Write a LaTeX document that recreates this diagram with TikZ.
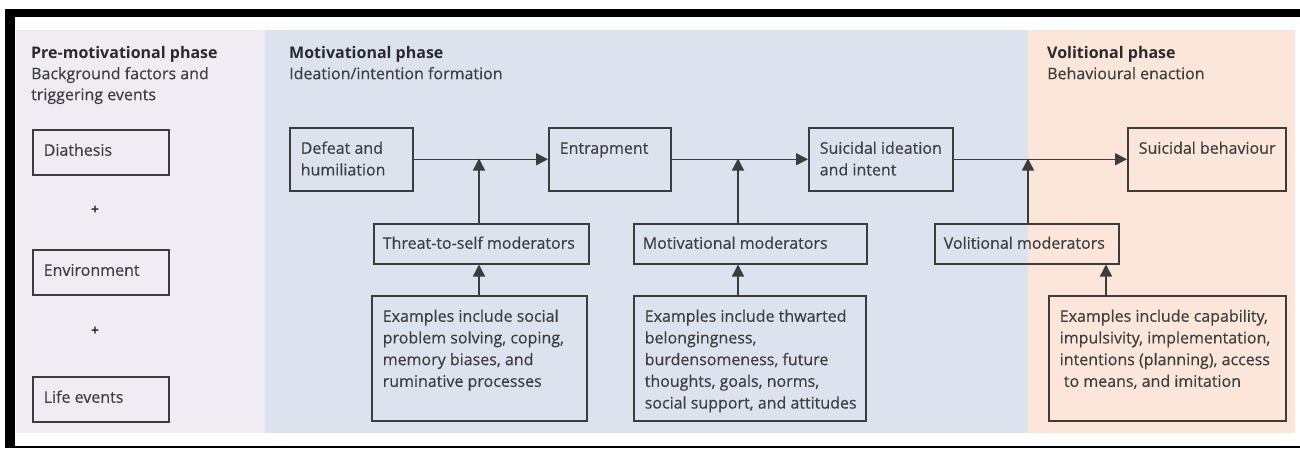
\documentclass[tikz,border=0pt]{standalone}
\usepackage{fontspec}
\setmainfont{Open Sans}
\newfontfamily\medf{Open Sans}[FakeBold=0.35]
\usetikzlibrary{arrows.meta}
\definecolor{prebg}{HTML}{EFECF4}
\definecolor{motbg}{HTML}{DCE2EE}
\definecolor{volbg}{HTML}{FCE5D9}
\definecolor{linec}{HTML}{3C3C3C}
\definecolor{txtc}{HTML}{3E3E3E}
\definecolor{headc}{HTML}{2A2A2A}
\newcommand\btx[3]{\parbox[c][#2pt][t]{#1pt}{\raggedright\leftskip=11pt\rule{0pt}{26pt}#3}}
\newcommand\htx[1]{\parbox[t]{260pt}{\raggedright\rule{0pt}{20pt}#1}}
\begin{document}
\begin{tikzpicture}[x=1pt,y=-1pt,
  boxst/.style={draw=linec, line width=1.5pt, inner sep=0pt, anchor=north west,
    font=\medf\fontsize{16}{21.7}\selectfont, text=txtc},
  headst/.style={inner sep=0pt, anchor=north west, font=\medf\fontsize{16}{21}\selectfont, text=txtc},
  plusst/.style={inner sep=0pt, font=\fontsize{14}{14}\selectfont\bfseries, text=headc},
  conn/.style={draw=linec, line width=1.5pt},
  arr/.style={conn, -{Triangle[length=12pt,width=12pt]}}]
\useasboundingbox (0,0) rectangle (1300,448);
\fill[white] (0,0) rectangle (1300,448);
% panels
\fill[prebg] (16,30) rectangle (265,433);
\fill[motbg] (265,30) rectangle (1028,433);
\fill[volbg] (1028,30) rectangle (1295,433);
% frame
\fill[black] (5,9) rectangle (1300,17);
\fill[black] (5,9) rectangle (15,448);
\draw[black, line width=1.5pt] (5,447) -- (1300,447);
% headings
\node[headst] (hpre) at (31,38) {\htx{\textcolor{headc}{\normalfont\bfseries Pre-motivational phase}\\Background factors and\\triggering events}};
\node[headst] (hmot) at (289,38) {\htx{\textcolor{headc}{\normalfont\bfseries Motivational phase}\\Ideation/intention formation}};
\node[headst] (hvol) at (1047,38) {\htx{\textcolor{headc}{\normalfont\bfseries Volitional phase}\\Behavioural enaction}};
% pre-motivational boxes
\node[boxst, minimum width=136pt, minimum height=45pt] (dia) at (32,129) {\btx{136}{45}{\mbox{Diathesis}}};
\node[plusst] (p1) at (95,210) {+};
\node[boxst, minimum width=136pt, minimum height=45pt] (env) at (32,249) {\btx{136}{45}{\mbox{Environment}}};
\node[plusst] (p2) at (95,331) {+};
\node[boxst, minimum width=136pt, minimum height=45pt] (life) at (32,376) {\btx{136}{45}{\mbox{Life events}}};
% main chain
\node[boxst, minimum width=123pt, minimum height=63pt] (def) at (289,127) {\btx{123}{63}{\mbox{Defeat and}\\\mbox{humiliation}}};
\node[boxst, minimum width=122pt, minimum height=63pt] (ent) at (548,127) {\btx{122}{63}{\mbox{Entrapment}}};
\node[boxst, minimum width=144pt, minimum height=63pt] (sui) at (808,127) {\btx{144}{63}{\mbox{Suicidal ideation}\\\mbox{and intent}}};
\node[boxst, minimum width=158pt, minimum height=63pt] (beh) at (1127,127) {\btx{158}{63}{\mbox{Suicidal behaviour}}};
% moderators
\node[boxst, minimum width=215pt, minimum height=40pt] (thr) at (373,223) {\parbox[c][40pt][t]{215pt}{\leftskip=9pt\rule{0pt}{25pt}\mbox{Threat-to-self moderators}}};
\node[boxst, minimum width=233pt, minimum height=40pt] (motm) at (633,223) {\parbox[c][40pt][t]{233pt}{\leftskip=9pt\rule{0pt}{25pt}\mbox{Motivational moderators}}};
\node[boxst, minimum width=184pt, minimum height=40pt] (volm) at (934,223) {\parbox[c][40pt][t]{184pt}{\leftskip=9pt\rule{0pt}{25pt}\mbox{Volitional moderators}}};
% examples
\node[boxst, minimum width=215pt, minimum height=125pt] (ex1) at (371,295) {\btx{215}{125}{\mbox{Examples include social}\\\mbox{problem solving, coping,}\\\mbox{memory biases, and}\\\mbox{ruminative processes}}};
\node[boxst, minimum width=232pt, minimum height=125pt] (ex2) at (633,295) {\btx{232}{125}{\mbox{Examples include thwarted}\\\mbox{belongingness,}\\\mbox{burdensomeness, future}\\\mbox{thoughts, goals, norms,}\\\mbox{social support, and attitudes}}};
\node[boxst, minimum width=237pt, minimum height=125pt] (ex3) at (1048,295) {\btx{237}{125}{\mbox{Examples include capability,}\\\mbox{impulsivity, implementation,}\\\mbox{intentions (planning), access}\\\mbox{\ to means, and imitation}}};
% junctions
\coordinate (j1) at (479,158.5);
\coordinate (j2) at (738,158.5);
\coordinate (j3) at (1028,158.5);
\coordinate (j4) at (1106,0);
% connectors
\draw[arr] (def.east) -- (ent.west);
\draw[arr] (ent.east) -- (sui.west);
\draw[arr] (sui.east) -- (beh.west);
\draw[arr] (thr.north -| j1) -- (j1);
\draw[arr] (ex1.north -| j1) -- (thr.south -| j1);
\draw[arr] (motm.north -| j2) -- (j2);
\draw[arr] (ex2.north -| j2) -- (motm.south -| j2);
\draw[arr] (volm.north -| j3) -- (j3);
\draw[arr] (ex3.north -| j4) -- (volm.south -| j4);
\end{tikzpicture}
\end{document}
